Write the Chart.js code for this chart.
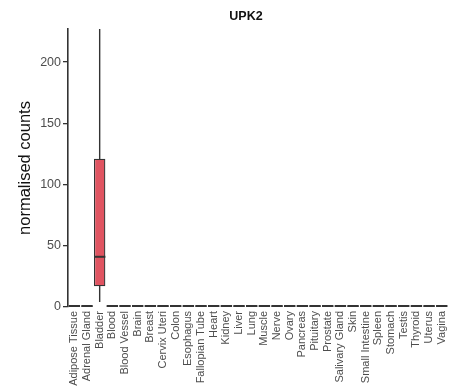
<!DOCTYPE html>
<html>
<head>
<meta charset="utf-8">
<script src="https://cdn.jsdelivr.net/npm/chart.js@4.4.0/dist/chart.umd.min.js"></script>
<style>
  html, body { margin: 0; padding: 0; background: #fff; }
  #wrap { width: 459px; height: 391px; }
</style>
</head>
<body>
<div id="wrap"><canvas id="chart"></canvas></div>
<script>
    'use strict';

    // Box plot statistics per tissue (normalised counts)
    const tissues = ['Adipose Tissue', 'Adrenal Gland', 'Bladder', 'Blood', 'Blood Vessel', 'Brain',
        'Breast', 'Cervix Uteri', 'Colon', 'Esophagus', 'Fallopian Tube', 'Heart', 'Kidney', 'Liver',
        'Lung', 'Muscle', 'Nerve', 'Ovary', 'Pancreas', 'Pituitary', 'Prostate', 'Salivary Gland',
        'Skin', 'Small Intestine', 'Spleen', 'Stomach', 'Testis', 'Thyroid', 'Uterus', 'Vagina'];
    const whiskerLow  = [0, 0, 4,  0, 0,   0,   0, 0, 0, 0, 0, 0, 0, 0, 0, 0, 0, 0, 0, 0, 0, 0, 0, 0, 0, 0, 0,   0, 0, 0];
    const q1          = [0, 0, 17, 0, 0,   0,   0, 0, 0, 0, 0, 0, 0, 0, 0, 0, 0, 0, 0, 0, 0, 0, 0, 0, 0, 0, 0,   0, 0, 0];
    const median      = [0, 0, 41, 0, 0.2, 0.3, 0, 0, 0, 0, 0, 0, 0, 0, 0, 0, 0, 0, 0, 0, 0, 0, 0, 0, 0, 0, 0.4, 0, 0, 0];
    const q3          = [0.1, 0.1, 121, 0.1, 0.4, 0.6, 0.2, 0.1, 0.1, 0.1, 0.1, 0.1, 0.1, 0.1, 0.1, 0.1, 0.1, 0.1, 0.1, 0.1, 0.1, 0.1, 0.1, 0.1, 0.1, 0.1, 0.8, 0.1, 0.1, 0.2];
    const whiskerHigh = [0.3, 0.3, 320, 0.2, 0.9, 1.2, 0.4, 0.3, 0.2, 0.3, 0.2, 0.2, 0.2, 0.2, 0.3, 0.2, 0.2, 0.2, 0.2, 0.2, 0.2, 0.3, 0.3, 0.2, 0.2, 0.2, 1.5, 0.3, 0.2, 0.4];
    const yTicks = [0, 50, 100, 150, 200];

    const lineColor = '#333333';
    const boxColor = '#e05461';
    const fontFamily = '"Liberation Sans", Arial, sans-serif';

    // whiskers under the boxes, medians on top
    const boxLines = {
        id: 'boxLines',
        beforeDatasetsDraw(chart) {
            const ctx = chart.ctx;
            const area = chart.chartArea;
            const x = chart.scales.x;
            const y = chart.scales.y;
            ctx.save();
            ctx.beginPath();
            ctx.rect(area.left, area.top, area.right - area.left, area.bottom - area.top);
            ctx.clip();
            ctx.strokeStyle = lineColor;
            ctx.lineWidth = 1.4;
            tissues.forEach(function(t, i) {
                const px = x.getPixelForValue(i);
                ctx.beginPath();
                ctx.moveTo(px, y.getPixelForValue(whiskerLow[i]));
                ctx.lineTo(px, y.getPixelForValue(whiskerHigh[i]));
                ctx.stroke();
            });
            ctx.restore();
        },
        afterDatasetsDraw(chart) {
            const ctx = chart.ctx;
            const area = chart.chartArea;
            const y = chart.scales.y;
            const bars = chart.getDatasetMeta(0).data;
            ctx.save();
            ctx.beginPath();
            ctx.rect(area.left, area.top - 2, area.right - area.left, area.bottom - area.top + 4);
            ctx.clip();
            ctx.strokeStyle = lineColor;
            ctx.lineWidth = 2;
            bars.forEach(function(bar, i) {
                const py = Math.min(y.getPixelForValue(median[i]), area.bottom - 1);
                ctx.beginPath();
                ctx.moveTo(bar.x - bar.width / 2, py);
                ctx.lineTo(bar.x + bar.width / 2, py);
                ctx.stroke();
            });
            ctx.restore();

            // title
            ctx.save();
            ctx.fillStyle = '#111';
            ctx.font = 'bold 12.5px ' + fontFamily;
            ctx.textAlign = 'center';
            ctx.textBaseline = 'middle';
            ctx.fillText('UPK2', 246, 17);
            ctx.restore();
        }
    };

    new Chart(document.getElementById('chart'), {
        type: 'bar',
        data: {
            labels: tissues,
            datasets: [{
                data: tissues.map(function(t, i) { return [q1[i], q3[i]]; }),
                backgroundColor: boxColor,
                borderColor: lineColor,
                borderWidth: 1.3,
                borderSkipped: false,
                barPercentage: 0.9,
                categoryPercentage: 1.0
            }]
        },
        options: {
            responsive: true,
            maintainAspectRatio: false,
            animation: false,
            layout: { padding: { left: 0, top: 29, right: 3, bottom: 0 } },
            plugins: {
                legend: { display: false },
                tooltip: { enabled: false },
                title: { display: false }
            },
            scales: {
                x: {
                    grid: { display: false, drawTicks: false },
                    border: { display: false },
                    ticks: {
                        autoSkip: false,
                        maxRotation: 90,
                        minRotation: 90,
                        padding: 4,
                        color: '#4d4d4d',
                        font: { family: fontFamily, size: 11 }
                    },
                    afterFit: function(scale) { scale.height = 84; }
                },
                y: {
                    min: 0,
                    max: 227,
                    afterBuildTicks: function(scale) {
                        scale.ticks = yTicks.map(function(v) { return { value: v }; });
                    },
                    grid: {
                        drawOnChartArea: false,
                        drawTicks: true,
                        tickLength: 5,
                        color: lineColor,
                        lineWidth: 1.3
                    },
                    border: { display: true, color: lineColor, width: 1.6 },
                    ticks: {
                        padding: 2,
                        color: '#4d4d4d',
                        font: { family: fontFamily, size: 12.5 }
                    },
                    title: {
                        display: true,
                        text: 'normalised counts',
                        color: '#111',
                        padding: { top: 16, bottom: 0 },
                        font: { family: fontFamily, size: 16.5 }
                    },
                    afterFit: function(scale) { scale.width = 68; }
                }
            }
        },
        plugins: [boxLines]
    });
</script>
</body>
</html>
